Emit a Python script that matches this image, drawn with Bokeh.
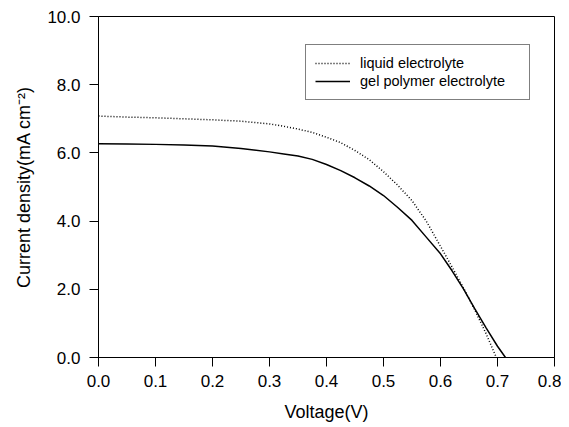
from bokeh.plotting import figure
from bokeh.models import Range1d, FixedTicker, NumeralTickFormatter, Legend, LegendItem
from bokeh.embed import file_html
from bokeh.resources import INLINE

# Data
v_liquid = [0.0, 0.05, 0.10, 0.15, 0.20, 0.25, 0.30, 0.325, 0.35, 0.375, 0.40,
            0.425, 0.45, 0.475, 0.50, 0.525, 0.55, 0.575, 0.60, 0.62, 0.64,
            0.66, 0.68, 0.698]
j_liquid = [7.08, 7.05, 7.03, 7.00, 6.97, 6.93, 6.85, 6.78, 6.70, 6.60, 6.46,
            6.30, 6.07, 5.80, 5.45, 5.05, 4.60, 4.00, 3.26, 2.66, 2.05,
            1.40, 0.70, 0.0]

v_gel = [0.0, 0.05, 0.10, 0.15, 0.20, 0.25, 0.30, 0.325, 0.35, 0.375, 0.40,
         0.425, 0.45, 0.475, 0.50, 0.525, 0.55, 0.575, 0.60, 0.62, 0.64,
         0.66, 0.68, 0.70, 0.714]
j_gel = [6.27, 6.26, 6.25, 6.23, 6.20, 6.13, 6.03, 5.97, 5.91, 5.81, 5.66,
         5.48, 5.27, 5.03, 4.75, 4.40, 4.02, 3.53, 3.04, 2.55, 2.02,
         1.43, 0.87, 0.33, 0.0]

x_ticks = [0.0, 0.1, 0.2, 0.3, 0.4, 0.5, 0.6, 0.7, 0.8]
y_ticks = [0.0, 2.0, 4.0, 6.0, 8.0, 10.0]

W, H = 561, 425
FL, FR, FT, FB = 98, 554, 16, 357
p = figure(width=W, height=H, output_backend="svg", toolbar_location=None,
           x_range=Range1d(0, 0.8), y_range=Range1d(0, 10),
           min_border_left=FL, min_border_right=W - FR,
           min_border_top=FT, min_border_bottom=H - FB)

p.xgrid.visible = False
p.ygrid.visible = False
p.outline_line_color = "black"
p.outline_line_width = 1
p.background_fill_color = "white"
p.border_fill_color = "white"

font = "Liberation Sans"
for ax in (p.xaxis[0], p.yaxis[0]):
    ax.axis_line_color = "black"
    ax.major_tick_line_color = "black"
    ax.major_tick_out = 9
    ax.major_tick_in = 0
    ax.minor_tick_line_color = None
    ax.major_label_text_font = font
    ax.major_label_text_font_size = "17px"
    ax.major_label_text_color = "black"
    ax.axis_label_text_font = font
    ax.axis_label_text_font_size = "18px"
    ax.axis_label_text_font_style = "normal"
    ax.axis_label_text_color = "black"
    ax.major_label_text_font_style = "normal"

p.xaxis.ticker = FixedTicker(ticks=x_ticks)
p.yaxis.ticker = FixedTicker(ticks=y_ticks)
p.xaxis.formatter = NumeralTickFormatter(format="0.0")
p.yaxis.formatter = NumeralTickFormatter(format="0.0")
p.xaxis.major_label_standoff = 8
p.yaxis.major_label_standoff = 9
p.xaxis.axis_label = "Voltage(V)"
p.yaxis.axis_label = "Current density(mA cm\u207b\u00b2)"
p.xaxis.axis_label_standoff = 12
p.yaxis.axis_label_standoff = 10

r1 = p.line(v_liquid, j_liquid, line_color="black", line_width=1.5, line_dash="1 2")
r2 = p.line(v_gel, j_gel, line_color="black", line_width=1.5)

legend = Legend(items=[LegendItem(label="liquid electrolyte", renderers=[r1]),
                       LegendItem(label="gel polymer electrolyte", renderers=[r2])],
                location=(207, (FB - FT) - 30 - 54))
legend.label_text_font = font
legend.label_text_font_size = "14.5px"
legend.label_text_color = "black"
legend.border_line_color = "black"
legend.border_line_width = 1
legend.background_fill_color = "white"
legend.background_fill_alpha = 1
legend.padding = 9
legend.spacing = 0
legend.glyph_width = 35
legend.glyph_height = 18
legend.label_height = 18
legend.label_standoff = 10
legend.label_width = 160
legend.margin = 0
p.add_layout(legend, "center")

open("out.html", "w").write(file_html(p, INLINE))
